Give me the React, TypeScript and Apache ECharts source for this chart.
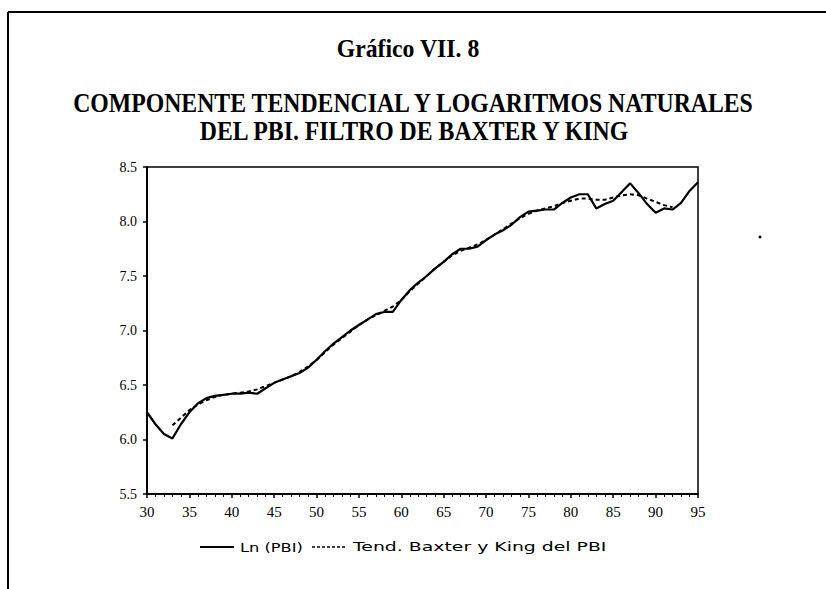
import React, { useEffect, useRef } from "react";
import * as echarts from "echarts";

const years: number[] = [];
for (let y = 1930; y <= 1995; y++) years.push(y);

const lnPBI = [
  6.25, 6.14, 6.05, 6.01, 6.14, 6.25, 6.33, 6.38, 6.40, 6.41,
  6.42, 6.42, 6.43, 6.42, 6.47, 6.52, 6.55, 6.58, 6.61, 6.66,
  6.73, 6.81, 6.88, 6.94, 7.00, 7.05, 7.10, 7.15, 7.17, 7.17,
  7.28, 7.37, 7.44, 7.50, 7.57, 7.63, 7.70, 7.75, 7.75, 7.77,
  7.83, 7.88, 7.92, 7.97, 8.04, 8.09, 8.10, 8.11, 8.11, 8.17,
  8.22, 8.25, 8.25, 8.12, 8.16, 8.19, 8.27, 8.35, 8.26, 8.16,
  8.08, 8.12, 8.11, 8.17, 8.28, 8.36,
];

const trendYears: number[] = [];
for (let y = 1933; y <= 1992; y++) trendYears.push(y);

const trendBK = [
  6.13, 6.20, 6.27, 6.32, 6.36, 6.39, 6.41,
  6.42, 6.43, 6.44, 6.46, 6.49, 6.52, 6.55, 6.58, 6.62, 6.67,
  6.73, 6.80, 6.87, 6.93, 6.99, 7.05, 7.10, 7.14, 7.18, 7.22,
  7.28, 7.36, 7.43, 7.50, 7.57, 7.63, 7.69, 7.73, 7.76, 7.79,
  7.83, 7.88, 7.93, 7.98, 8.03, 8.07, 8.10, 8.12, 8.14, 8.17,
  8.19, 8.21, 8.21, 8.20, 8.20, 8.22, 8.24, 8.25, 8.24, 8.21,
  8.18, 8.15, 8.13,
];

const seriesNames = ["Ln (PBI)", "Tend. Baxter y King del PBI"];
const titleText = "Gráfico VII. 8";
const subtitleLines = [
  "COMPONENTE TENDENCIAL Y LOGARITMOS NATURALES",
  "DEL PBI. FILTRO DE BAXTER Y KING",
];

export default function App() {
  const ref = useRef<HTMLDivElement>(null);
  useEffect(() => {
    if (!ref.current) return;
    const chart = echarts.init(ref.current, null, { renderer: "svg" });
    const serif = "'Liberation Serif', 'Times New Roman', serif";
    const legendFont = "13px 'DejaVu Sans', sans-serif";
    const legY = 547;
    chart.setOption({
      animation: false,
      backgroundColor: "#ffffff",
      graphic: [
        { type: "line", shape: { x1: 8, y1: 12, x2: 826, y2: 12 }, style: { stroke: "#000", lineWidth: 2 } },
        { type: "line", shape: { x1: 8, y1: 12, x2: 8, y2: 589 }, style: { stroke: "#000", lineWidth: 2 } },
        {
          type: "text", x: 408, y: 48, scaleX: 0.95,
          style: { text: titleText, font: `bold 25px ${serif}`, fill: "#000", align: "center", verticalAlign: "middle" },
        },
        {
          type: "text", x: 413, y: 103, scaleX: 0.88,
          style: { text: subtitleLines[0], font: `bold 27px ${serif}`, fill: "#000", align: "center", verticalAlign: "middle" },
        },
        {
          type: "text", x: 414, y: 131, scaleX: 0.88,
          style: { text: subtitleLines[1], font: `bold 27px ${serif}`, fill: "#000", align: "center", verticalAlign: "middle" },
        },
        { type: "circle", shape: { cx: 760, cy: 237, r: 1.5 }, style: { fill: "#000" } },
        // legend
        { type: "line", shape: { x1: 200, y1: legY, x2: 234, y2: legY }, style: { stroke: "#000", lineWidth: 2 } },
        {
          type: "text", x: 240, y: legY, scaleX: 1.25,
          style: { text: seriesNames[0], font: legendFont, fill: "#000", align: "left", verticalAlign: "middle" },
        },
        { type: "line", shape: { x1: 312, y1: legY, x2: 346, y2: legY }, style: { stroke: "#000", lineWidth: 1.5, lineDash: [3, 2] } },
        {
          type: "text", x: 353, y: legY, scaleX: 1.45,
          style: { text: seriesNames[1], font: legendFont, fill: "#000", align: "left", verticalAlign: "middle" },
        },
      ],
      grid: {
        left: 147, right: 128, top: 167, bottom: 95,
        show: true, borderColor: "#000", borderWidth: 1.5,
      },
      xAxis: {
        type: "value",
        min: 1930, max: 1995, interval: 5,
        axisLine: { show: true, lineStyle: { color: "#000", width: 2 } },
        axisTick: { show: true, length: 4, lineStyle: { color: "#000", width: 1.5 } },
        minorTick: { show: true, splitNumber: 5, length: 3, lineStyle: { color: "#000", width: 1 } },
        splitLine: { show: false },
        axisLabel: {
          color: "#000", fontFamily: serif, fontSize: 15, margin: 10,
          formatter: (v: number) => String(v % 100).padStart(2, "0"),
        },
      },
      yAxis: {
        type: "value",
        min: 5.5, max: 8.5, interval: 0.5,
        axisLine: { show: true, lineStyle: { color: "#000", width: 2 } },
        axisTick: { show: true, length: 4, lineStyle: { color: "#000", width: 1.5 } },
        splitLine: { show: false },
        axisLabel: {
          color: "#000", fontFamily: serif, fontSize: 14, margin: 10,
          formatter: (v: number) => v.toFixed(1),
        },
      },
      series: [
        {
          name: seriesNames[0], type: "line", showSymbol: false, symbol: "none",
          lineStyle: { color: "#000", width: 2.2 },
          itemStyle: { color: "#000" },
          data: years.map((y, i) => [y, lnPBI[i]]),
          z: 3,
        },
        {
          name: seriesNames[1], type: "line", showSymbol: false, symbol: "none",
          lineStyle: { color: "#000", width: 2, type: [4, 3] },
          itemStyle: { color: "#000" },
          data: trendYears.map((y, i) => [y, trendBK[i]]),
          z: 2,
        },
      ],
    });
    return () => chart.dispose();
  }, []);
  return <div ref={ref} style={{ width: 826, height: 589, position: "absolute", left: 0, top: 0 }} />;
}
